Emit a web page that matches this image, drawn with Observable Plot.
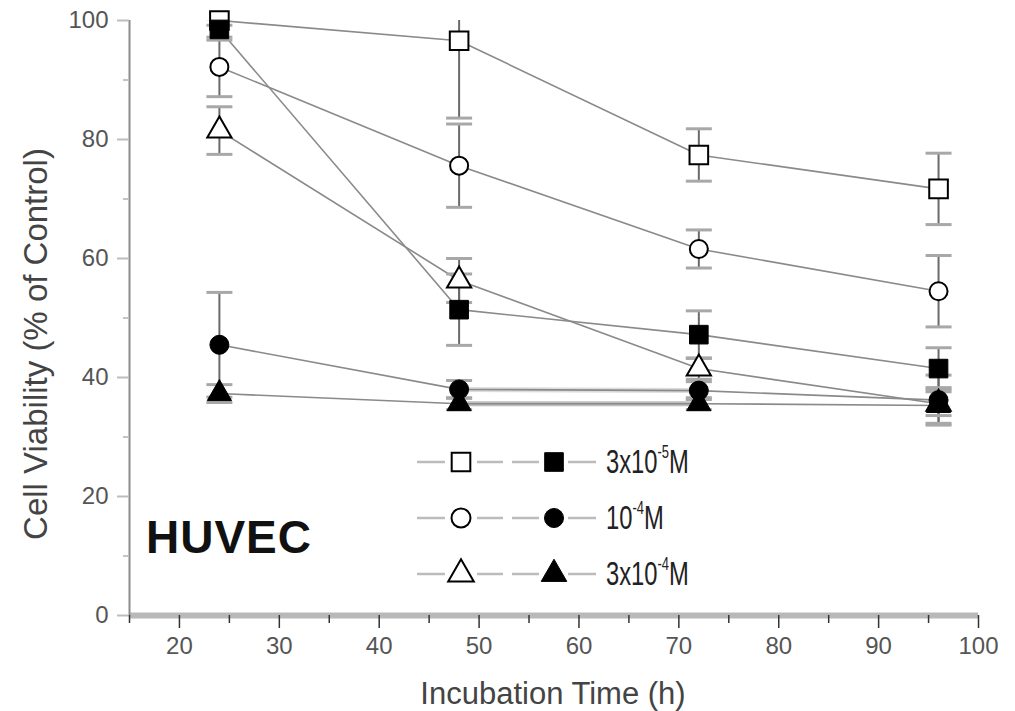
<!DOCTYPE html>
<html>
<head>
<meta charset="utf-8">
<script src="https://cdn.jsdelivr.net/npm/d3@7"></script>
<script src="https://cdn.jsdelivr.net/npm/@observablehq/plot@0.6"></script>
<style>
  html, body { margin: 0; padding: 0; background: #fff; }
  #chart { width: 1015px; height: 711px; }
</style>
</head>
<body>
<div id="chart"></div>
<script>
// ---- data ----
const time = [24, 48, 72, 96];

const openSquare     = [100.0, 96.6, 77.4, 71.7];
const openSquareErr  = [0.8, 13.0, 4.4, 6.0];
const fillSquare     = [98.5, 51.4, 47.2, 41.5];
const fillSquareErr  = [1.8, 6.0, 4.0, 3.5];

const openCircle     = [92.2, 75.6, 61.6, 54.5];
const openCircleErr  = [5.0, 7.0, 3.2, 6.0];
const fillCircle     = [45.5, 38.0, 37.8, 36.2];
const fillCircleErr  = [8.8, 1.5, 1.5, 4.2];

const openTriangle    = [81.5, 56.3, 41.5, 35.6];
const openTriangleErr = [4.0, 3.7, 1.8, 2.0];
const fillTriangle    = [37.3, 35.6, 35.6, 35.3];
const fillTriangleErr = [1.5, 1.0, 1.0, 3.0];

const legendLabels = [
  {base: "3x10", sup: "-5", unit: "M"},
  {base: "10",   sup: "-4", unit: "M"},
  {base: "3x10", sup: "-4", unit: "M"}
];

const yMajor = [0, 20, 40, 60, 80, 100];
const yMinor = [10, 30, 50, 70, 90];
const xMajor = [20, 30, 40, 50, 60, 70, 80, 90, 100];
const xMinor = [15, 25, 35, 45, 55, 65, 75, 85, 95];

// ---- build tidy tables ----
const series = [
  {key: "os", v: openSquare,   e: openSquareErr,   symbol: "square",   fill: "white", r: 10.5},
  {key: "oc", v: openCircle,   e: openCircleErr,   symbol: "circle",   fill: "white", r: 9},
  {key: "ot", v: openTriangle, e: openTriangleErr, symbol: "triangle", fill: "white", r: 9},
  {key: "fs", v: fillSquare,   e: fillSquareErr,   symbol: "square",   fill: "black", r: 10.5},
  {key: "fc", v: fillCircle,   e: fillCircleErr,   symbol: "circle",   fill: "black", r: 9.5},
  {key: "ft", v: fillTriangle, e: fillTriangleErr, symbol: "triangle", fill: "black", r: 9}
];
const rows = series.flatMap(s => time.map((t, i) => ({key: s.key, t, v: s.v[i], e: s.e[i]})));
const caps = rows.flatMap(d => [{t: d.t, y: d.v - d.e}, {t: d.t, y: d.v + d.e}]);
// thick grey segments seen between 48 h and 72 h for the two lowest filled series
const thick = ["fc", "ft"].map(k => {
  const s = series.find(q => q.key === k);
  return {x1: time[1], y1: s.v[1], x2: time[2], y2: s.v[2], k};
});

const capSymbol = { draw(ctx) { ctx.moveTo(-13, 0); ctx.lineTo(13, 0); } };

const marks = [
  Plot.ruleY([0], {stroke: "#b9b9b9", strokeWidth: 6}),
  Plot.ruleX([15], {y1: 0, y2: 100, stroke: "#8c8c8c", strokeWidth: 2}),
  Plot.axisY({ticks: yMajor, tickSize: 12, tickPadding: 9, tickFormat: d => d, fontSize: 24,
              stroke: "#bdbdbd", fill: "#555", label: null, strokeWidth: 2}),
  Plot.axisY({ticks: yMinor, tickSize: 6, tickFormat: () => "", stroke: "#c4c4c4", label: null, strokeWidth: 2}),
  Plot.axisX({ticks: xMajor, tickSize: 13, tickPadding: 8, tickFormat: d => d, fontSize: 24,
              stroke: "#333", fill: "#555", label: null, strokeWidth: 1.5}),
  Plot.axisX({ticks: xMinor, tickSize: 8, tickFormat: () => "", stroke: "#333", label: null, strokeWidth: 1.5}),
  Plot.link(thick, {x1: "x1", y1: "y1", x2: "x2", y2: "y2", stroke: (d) => d.k === "fc" ? "#dcdcdc" : "#bdbdbd", strokeWidth: 5}),
  Plot.line(rows, {x: "t", y: "v", z: "key", stroke: "#8a8a8a", strokeWidth: 1.6}),
  Plot.ruleX(rows, {x: "t", y1: d => d.v - d.e, y2: d => d.v + d.e, stroke: "#6a6a6a", strokeWidth: 2, clip: true}),
  Plot.dot(caps, {x: "t", y: "y", symbol: capSymbol, r: 5, stroke: "#a8a8a8", strokeWidth: 3, fill: "none", clip: true}),
  ...series.map(s => Plot.dot(rows.filter(d => d.key === s.key), {
    x: "t", y: "v", symbol: s.symbol, r: s.r, fill: s.fill, stroke: "black", strokeWidth: s.fill === "white" ? 2 : 1
  }))
];

const svg = Plot.plot({
  width: 1015,
  height: 711,
  marginLeft: 129,
  marginRight: 37,
  marginTop: 20,
  marginBottom: 96,
  x: {domain: [15, 100]},
  y: {domain: [0, 100]},
  style: {fontFamily: "'Liberation Sans', Arial, sans-serif", background: "white", overflow: "visible"},
  marks
});

// ---- annotations: axis titles, panel label, legend ----
const g = d3.select(svg).append("g")
  .attr("font-family", "'Liberation Sans', Arial, sans-serif")
  .attr("text-anchor", "start");

g.append("text")
  .attr("x", 553).attr("y", 704)
  .attr("text-anchor", "middle").attr("font-size", 31).attr("fill", "#444")
  .text("Incubation Time (h)");

g.append("text")
  .attr("transform", "translate(47,344) rotate(-90)")
  .attr("text-anchor", "middle").attr("font-size", 33).attr("fill", "#444")
  .text("Cell Viability (% of Control)");

g.append("text")
  .attr("x", 146).attr("y", 553)
  .attr("text-anchor", "start")
  .attr("font-size", 46).attr("font-weight", "bold").attr("fill", "#111")
  .attr("letter-spacing", 1)
  .text("HUVEC");

const legendRows = [462, 518, 574];
const legSymbols = [d3.symbolSquare, d3.symbolCircle, d3.symbolTriangle];
const legSizes = [Math.PI * 10.5 * 10.5, Math.PI * 9.5 * 9.5, Math.PI * 9.5 * 9.5];
legendLabels.forEach((lab, i) => {
  const y = legendRows[i];
  const row = g.append("g");
  [[417, 445], [477, 503], [512, 539], [568, 596]].forEach(([a, b]) => {
    row.append("line").attr("x1", a).attr("x2", b).attr("y1", y).attr("y2", y)
      .attr("stroke", "#bbb").attr("stroke-width", 2.5);
  });
  row.append("path").attr("d", d3.symbol(legSymbols[i], legSizes[i])())
    .attr("transform", `translate(461,${y})`).attr("fill", "white").attr("stroke", "black").attr("stroke-width", 2);
  row.append("path").attr("d", d3.symbol(legSymbols[i], legSizes[i])())
    .attr("transform", `translate(554,${y})`).attr("fill", "black").attr("stroke", "black").attr("stroke-width", 1);
  const t = row.append("text")
    .attr("text-anchor", "start")
    .attr("transform", `translate(606,${y + 11}) scale(0.72,1)`)
    .attr("font-size", 33).attr("fill", "#222");
  t.append("tspan").text(lab.base);
  t.append("tspan").attr("font-size", 18).attr("dy", -15).text(lab.sup);
  t.append("tspan").attr("dy", 15).text(lab.unit);
});

document.getElementById("chart").appendChild(svg);
</script>
</body>
</html>
